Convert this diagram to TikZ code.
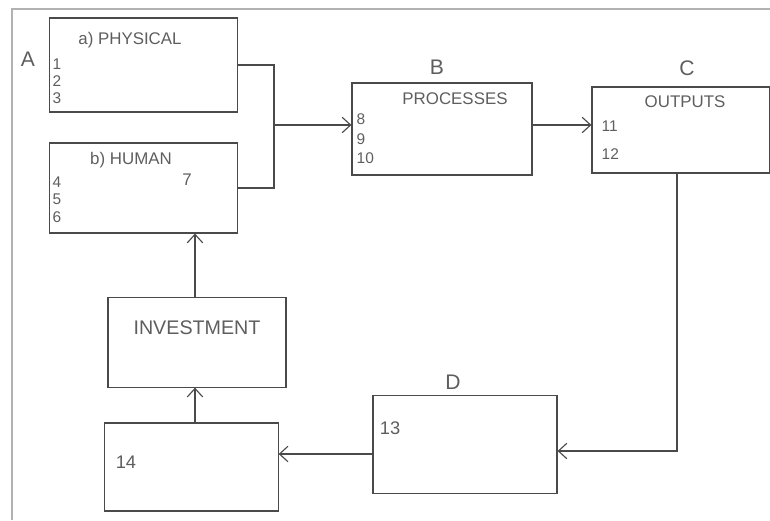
\documentclass[tikz,border=0pt]{standalone}
\usepackage{fontspec}
\setsansfont{Liberation Sans}
\usetikzlibrary{positioning,arrows.meta}
\definecolor{pencil}{HTML}{4A4A4A}
\definecolor{lead}{HTML}{5E5E5E}
\begin{document}
\begin{tikzpicture}[
        x=0.025cm, y=-0.025cm,
        >={Straight Barb[length=6pt,width=11pt]},
        every node/.style={font=\sffamily, text=lead},
        box/.style={draw=pencil, thick, rectangle, inner sep=0pt},
        title/.style={font=\sffamily\fontsize{12}{14}\selectfont, inner sep=1pt},
        nums/.style={font=\sffamily\fontsize{11}{12}\selectfont, align=left, inner sep=1pt, anchor=north west},
        letter/.style={font=\sffamily\fontsize{15}{17}\selectfont, inner sep=1pt},
        flow/.style={draw=pencil, thick, ->},
        line/.style={draw=pencil, thick},
    ]
    \useasboundingbox (0,0) rectangle (770,520);
    % page edge of the scan
    \draw[gray!60, line width=1.2pt] (12,520) -- (12,9) -- (770,9);

    % boxes
    \node[box, minimum width=4.68cm, minimum height=2.35cm](phys) at (143.5,65){};
    \node[box, minimum width=4.68cm, minimum height=2.25cm](human) at (143.5,188){};
    \node[box, minimum width=4.5cm, minimum height=2.3cm](proc) at (442,129){};
    \node[box, minimum width=4.45cm, minimum height=2.15cm](outp) at (681,130){};
    \node[box, minimum width=4.45cm, minimum height=2.23cm](invest) at (197,342.5){};
    \node[box, minimum width=4.33cm, minimum height=2.2cm](box14) at (191.5,467){};
    \node[box, minimum width=4.6cm, minimum height=2.43cm](boxD) at (465,444.5){};

    % texts in the boxes
    \node[title](physT) at (130,40){a) PHYSICAL};
    \node[nums](physN) at (51,57){1\\2\\3};
    \node[title](humanT) at (131,160){b) HUMAN};
    \node[title](seven) at (187,180){7};
    \node[nums, font=\sffamily\fontsize{11}{12.5}\selectfont](humanN) at (51,175){4\\5\\6};
    \node[nums, font=\sffamily\fontsize{11}{14}\selectfont](procN) at (355,112){8\\9\\10};
    \node[title](procT) at (455,99){PROCESSES};
    \node[title](outpT) at (685,102){OUTPUTS};
    \node[nums, font=\sffamily\fontsize{11}{20}\selectfont](outpN) at (600,119){11\\12};
    \node[title, font=\sffamily\fontsize{14}{16}\selectfont](investT) at (197,328){INVESTMENT};
    \node[title, font=\sffamily\fontsize{13}{15}\selectfont](n13) at (390,428){13};
    \node[title, font=\sffamily\fontsize{13}{15}\selectfont](n14) at (126,462){14};

    % letters
    \node[letter](A) at (28,59){A};
    \node[letter](B) at (437,67){B};
    \node[letter](C) at (687,68){C};
    \node[letter](D) at (453,382){D};

    % connectors
    \coordinate (join) at (274,125);
    \draw[line] (phys.east) -| (join) |- (human.east);
    \draw[flow] (join) -- (proc.west |- join);
    \draw[flow] (proc.east |- join) -- (outp.west |- join);
    \draw[flow] (outp.south -| 677,0) |- (boxD.east |- 0,451);
    \draw[flow] (boxD.west |- 0,454) -- (box14.east |- 0,454);
    \draw[flow] (box14.north -| 195,0) -- (invest.south -| 195,0);
    \draw[flow] (invest.north -| 195,0) -- (human.south -| 195,0);
\end{tikzpicture}
\end{document}
